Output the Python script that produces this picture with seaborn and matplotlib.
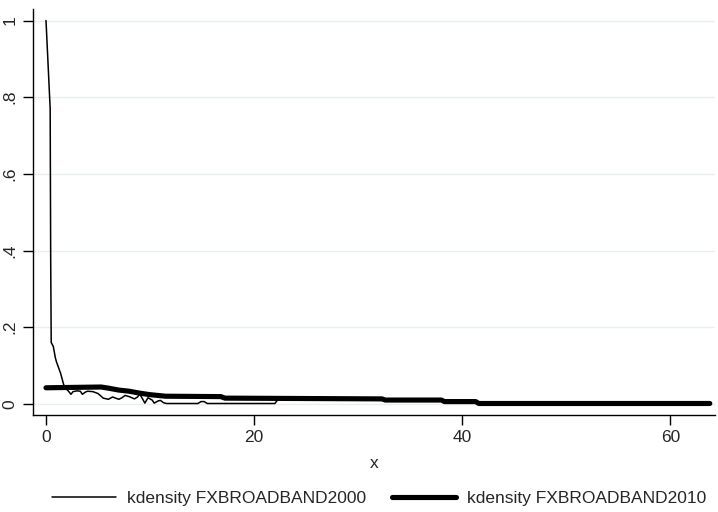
import pandas as pd
import numpy as np
import matplotlib
matplotlib.use('Agg')
import matplotlib.pyplot as plt
import seaborn as sns

# kdensity FXBROADBAND2000
x_2000 = [0.0, 0.4, 0.45, 0.5, 0.7, 0.9, 1.0, 1.2, 1.4, 1.5, 1.7, 1.9, 2.1, 2.4,
          2.6, 3.0, 3.3, 3.5, 3.8, 4.0, 4.5, 5.0, 5.5, 6.0, 6.4, 7.0, 7.3, 7.6,
          8.0, 8.5, 8.8, 9.0, 9.3, 9.5, 9.8, 10.2, 10.4, 10.8, 11.0, 11.3, 11.6,
          14.6, 14.9, 15.2, 15.5, 22.0, 22.3, 30.0]
y_2000 = [1.0, 0.77, 0.38, 0.16, 0.15, 0.12, 0.11, 0.095, 0.08, 0.07, 0.05, 0.04, 0.035, 0.025,
          0.032, 0.034, 0.033, 0.025, 0.031, 0.033, 0.032, 0.027, 0.015, 0.012, 0.018, 0.012, 0.016, 0.022,
          0.019, 0.013, 0.018, 0.026, 0.012, 0.002, 0.016, 0.010, 0.002, 0.008, 0.009, 0.003, 0.001,
          0.001, 0.006, 0.006, 0.001, 0.001, 0.012, 0.012]

# kdensity FXBROADBAND2010
x_2010 = [0.0, 5.3, 6.0, 7.0, 8.0, 9.0, 10.0, 11.5, 16.8, 17.2, 32.3, 32.6, 38.0, 38.3, 41.3, 41.6, 63.8]
y_2010 = [0.042, 0.044, 0.041, 0.036, 0.033, 0.028, 0.024, 0.020, 0.019, 0.015, 0.013, 0.010, 0.010, 0.006, 0.006, 0.001, 0.001]

xticks = [0, 20, 40, 60]
yticks = [0, 0.2, 0.4, 0.6, 0.8, 1.0]
ytick_labels = ['0', '.2', '.4', '.6', '.8', '1']


def plot_kdensity():
    sns.set_style('white')
    plt.rcParams['font.family'] = ['Liberation Sans', 'DejaVu Sans']
    fs = 12.5

    fig = plt.figure(figsize=(7.18, 5.12), dpi=100)
    ax = fig.add_axes([33 / 718, 1 - 415 / 512, (715 - 33) / 718, (415 - 9) / 512])

    df_a = pd.DataFrame({'x': x_2000, 'density': y_2000})
    df_b = pd.DataFrame({'x': x_2010, 'density': y_2010})

    # grid lines first so the curves sit on top
    for t in yticks:
        ax.axhline(t, color='#e8eff0', lw=1.0, zorder=0)

    sns.lineplot(data=df_b, x='x', y='density', sort=False, estimator=None,
                 color='black', lw=3.7, ax=ax, label='kdensity FXBROADBAND2010')
    sns.lineplot(data=df_a, x='x', y='density', sort=False, estimator=None,
                 color='black', lw=1.1, ax=ax, label='kdensity FXBROADBAND2000')

    ax.set_xlim(-1.25, 64.3)
    ax.set_ylim(-0.029, 1.03)
    ax.set_xticks(xticks)
    ax.set_yticks(yticks)
    ax.set_yticklabels(ytick_labels, rotation=90, va='center')
    ax.tick_params(axis='both', direction='out', length=7, width=1, color='black',
                   labelsize=fs, pad=4, left=True, bottom=True)
    ax.set_xlabel('x', fontsize=fs, labelpad=8)
    ax.set_ylabel('')

    for side in ['top', 'right']:
        ax.spines[side].set_visible(False)
    for side in ['left', 'bottom']:
        ax.spines[side].set_color('black')
        ax.spines[side].set_linewidth(1.0)

    handles, labels = ax.get_legend_handles_labels()
    ax.get_legend().remove()
    fig.legend(handles[::-1], labels[::-1], loc='center', ncol=2,
               frameon=False, fontsize=fs, bbox_to_anchor=(0.528, 14 / 512),
               handlelength=3.7, handletextpad=0.63, columnspacing=1.5)

    plt.savefig('out.png', dpi=100)


def main():
    plot_kdensity()


if __name__ == '__main__':
    main()
